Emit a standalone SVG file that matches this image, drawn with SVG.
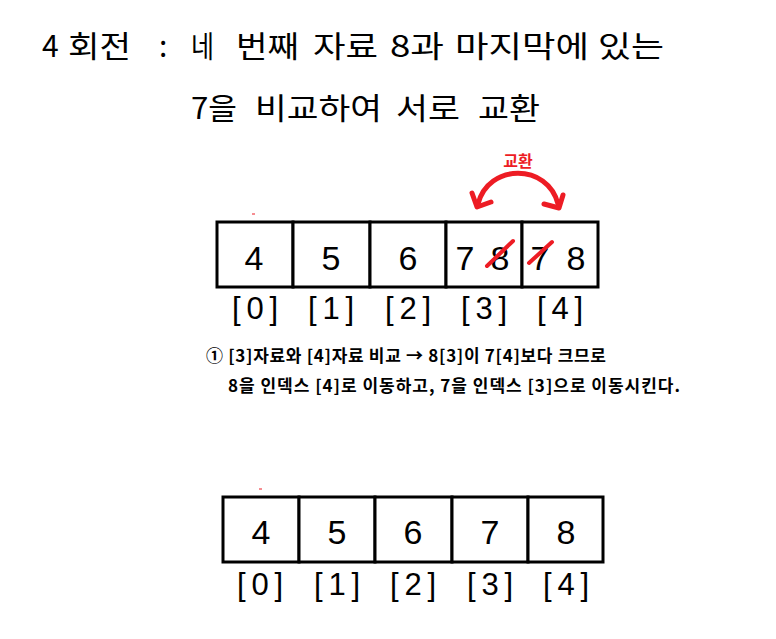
<svg xmlns="http://www.w3.org/2000/svg" width="776" height="639" viewBox="0 0 776 639">
<style>
.title{font-family:"Noto Sans CJK KR","Liberation Sans",sans-serif;font-size:30px;fill:#000}
.cell{fill:#fff;stroke:#000;stroke-width:3}
.val{font-family:"Liberation Sans",Arial,sans-serif;font-size:34px;fill:#000;text-anchor:middle}
.idx{font-family:"Liberation Sans",Arial,sans-serif;font-size:31px;fill:#000;text-anchor:middle}
.note{font-family:"Noto Sans CJK KR","Liberation Sans",sans-serif;font-size:17px;font-weight:bold;fill:#000}
.red{fill:none;stroke:#ed1c24;stroke-width:5;stroke-linecap:round;stroke-linejoin:round}
.strike{stroke:#ed1c24;stroke-width:4;stroke-linecap:round}
</style>
<rect width="776" height="639" fill="#fff"/>
<g id="title">
<text class="title" x="42" y="57">4</text>
<text class="title" x="68" y="57" textLength="63" lengthAdjust="spacingAndGlyphs">회전</text>
<text class="title" x="159" y="57">:</text>
<text class="title" x="191" y="57" textLength="23" lengthAdjust="spacingAndGlyphs">네</text>
<text class="title" x="236" y="57" textLength="63" lengthAdjust="spacingAndGlyphs">번째</text>
<text class="title" x="313" y="57" textLength="65" lengthAdjust="spacingAndGlyphs">자료</text>
<text class="title" x="390" y="57" textLength="54" lengthAdjust="spacingAndGlyphs">8과</text>
<text class="title" x="455" y="57" textLength="134" lengthAdjust="spacingAndGlyphs">마지막에</text>
<text class="title" x="598" y="57" textLength="66" lengthAdjust="spacingAndGlyphs">있는</text>
<text class="title" x="191" y="119" textLength="46" lengthAdjust="spacingAndGlyphs">7을</text>
<text class="title" x="255" y="119" textLength="127" lengthAdjust="spacingAndGlyphs">비교하여</text>
<text class="title" x="396" y="119" textLength="64" lengthAdjust="spacingAndGlyphs">서로</text>
<text class="title" x="478" y="119" textLength="62" lengthAdjust="spacingAndGlyphs">교환</text>
</g>
<g id="top-array">
<g id="t0"><rect class="cell" x="217" y="222" width="76" height="65"/><text class="val" x="254" y="270">4</text><text class="idx" x="255" y="319" textLength="46" lengthAdjust="spacing">[0]</text></g>
<g id="t1"><rect class="cell" x="293" y="222" width="77" height="65"/><text class="val" x="331" y="270">5</text><text class="idx" x="331" y="319" textLength="46" lengthAdjust="spacing">[1]</text></g>
<g id="t2"><rect class="cell" x="370" y="222" width="76" height="65"/><text class="val" x="408" y="270">6</text><text class="idx" x="408" y="319" textLength="46" lengthAdjust="spacing">[2]</text></g>
<g id="t3"><rect class="cell" x="446" y="222" width="76" height="65"/><text class="val" x="465" y="270">7</text><text class="val" x="500" y="270">8</text><text class="idx" x="484" y="319" textLength="46" lengthAdjust="spacing">[3]</text></g>
<g id="t4"><rect class="cell" x="522" y="222" width="76" height="65"/><text class="val" x="540" y="270">7</text><text class="val" x="576" y="270">8</text><text class="idx" x="560" y="319" textLength="46" lengthAdjust="spacing">[4]</text></g>
<line x1="252" y1="214" x2="255" y2="214" stroke="#ed1c24" stroke-width="1"/>
</g>
<g id="connectors">
<path class="red" d="M478,204 C488,163 548,163 558,204"/>
<polyline class="red" points="472,193 477,207 491,202"/>
<polyline class="red" points="544,204 559,208 563,195"/>
<line class="strike" x1="487" y1="266" x2="513" y2="241"/>
<line class="strike" x1="529" y1="263" x2="552" y2="242"/>
<text x="518" y="167" font-family="Noto Sans CJK KR, sans-serif" font-size="16" font-weight="bold" fill="#ed1c24" text-anchor="middle">교환</text>
</g>
<g id="note">
<text class="note" x="206" y="362" textLength="400" lengthAdjust="spacing">① [3]자료와 [4]자료 비교 → 8[3]이 7[4]보다 크므로</text>
<text class="note" x="228" y="392" textLength="452" lengthAdjust="spacing">8을 인덱스 [4]로 이동하고, 7을 인덱스 [3]으로 이동시킨다.</text>
</g>
<g id="bottom-array">
<g id="b0"><rect class="cell" x="223" y="497" width="76" height="65"/><text class="val" x="261" y="544">4</text><text class="idx" x="260" y="595" textLength="46" lengthAdjust="spacing">[0]</text></g>
<g id="b1"><rect class="cell" x="299" y="497" width="76" height="65"/><text class="val" x="337" y="544">5</text><text class="idx" x="337" y="595" textLength="46" lengthAdjust="spacing">[1]</text></g>
<g id="b2"><rect class="cell" x="375" y="497" width="77" height="65"/><text class="val" x="413" y="544">6</text><text class="idx" x="413" y="595" textLength="46" lengthAdjust="spacing">[2]</text></g>
<g id="b3"><rect class="cell" x="452" y="497" width="76" height="65"/><text class="val" x="490" y="544">7</text><text class="idx" x="490" y="595" textLength="46" lengthAdjust="spacing">[3]</text></g>
<g id="b4"><rect class="cell" x="528" y="497" width="75" height="65"/><text class="val" x="566" y="544">8</text><text class="idx" x="566" y="595" textLength="46" lengthAdjust="spacing">[4]</text></g>
<line x1="259" y1="489" x2="262" y2="489" stroke="#ed1c24" stroke-width="1"/>
</g>
</svg>
